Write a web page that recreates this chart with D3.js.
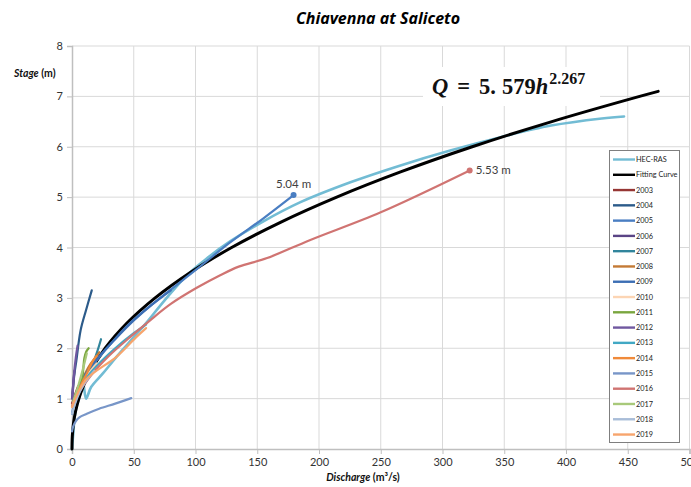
<!DOCTYPE html>
<html>
<head>
<meta charset="utf-8">
<script src="https://cdn.jsdelivr.net/npm/d3@7"></script>
<style>
  body { margin: 0; background: #fff; }
  svg { display: block; }
</style>
</head>
<body>
<svg id="chart" width="691" height="487"></svg>
<script>
// ---- data: [discharge m3/s, stage m] pairs ----
const hecRas = [[0,0],[1,0.3],[2.5,0.7],[5.5,1.0],[9,1.3],[11.4,1.0],[15.5,1.23],[25,1.5],[36,1.83],[50,2.22],[60,2.5],[75,2.95],[93,3.45],[110,3.8],[128,4.12],[155,4.52],[185,4.9],[226,5.3],[266,5.63],[307,5.93],[347,6.19],[388,6.42],[429,6.56],[447,6.6]];

// fitted rating curve Q = a * h^b
const fitCoef = 5.579;
const fitExp = 2.267;
const fitStage = [0,0.1,0.25,0.5,0.75,1,1.25,1.5,2,2.5,3,3.5,4,4.5,5,5.5,6,6.5,7,7.1];

const s2003 = [[0,0.9],[2,1.05],[5,1.25]];
const s2004 = [[0.5,1.1],[2,1.5],[3.5,1.75],[7,2.36],[11.4,2.76],[16,3.15]];
const s2005 = [[0,0.7],[5,1.2],[15,1.6],[30,2.05],[47,2.5],[74,3.05],[101,3.57],[128,4.1],[155,4.58],[179.4,5.04]];
const s2006 = [[0,1.0],[1,1.3],[2,1.55]];
const s2007 = [[6,1.2],[11,1.43],[18,1.77],[23.5,2.18]];
const s2008 = [[3,1.0],[8,1.35],[14,1.65],[19.5,1.83],[22,1.92]];
const s2009 = [[2,1.0],[10,1.45],[20,1.78],[35,2.18],[50,2.55],[65,2.87],[80,3.15]];
const s2010 = [[0,0.85],[5,1.15],[12,1.45],[20,1.7]];
const s2011 = [[5,1.15],[8,1.35],[9,1.55],[10,1.8],[11.5,1.93],[13.5,2.0]];
const s2012 = [[0.3,1.0],[1.5,1.45],[3,1.8],[4.5,2.05]];
const s2013 = [[2,0.9],[10,1.35],[20,1.65],[35,2.0],[50,2.3],[60,2.47]];
const s2014 = [[2,0.95],[6,1.2],[12,1.5],[17,1.75],[20,1.85]];
const s2015 = [[0,0.35],[1,0.45],[3,0.55],[6,0.63],[12,0.7],[22,0.8],[35,0.9],[48,1.01]];
const s2016 = [[0,0.85],[5,1.1],[15,1.45],[30,1.85],[47,2.22],[63,2.55],[80,2.88],[101,3.2],[120,3.45],[135,3.62],[158,3.79],[193,4.15],[250,4.7],[322,5.53]];
const s2017 = [[1,0.95],[5,1.25],[9,1.6],[12,1.9]];
const s2018 = [[0,0.7],[4,1.0],[10,1.3],[18,1.55]];
const s2019 = [[0,0.83],[11,1.37],[36,1.83],[52,2.22],[60,2.4]];

const years = ["2003","2004","2005","2006","2007","2008","2009","2010","2011","2012","2013","2014","2015","2016","2017","2018","2019"];
const yearData = [s2003,s2004,s2005,s2006,s2007,s2008,s2009,s2010,s2011,s2012,s2013,s2014,s2015,s2016,s2017,s2018,s2019];
const yearColors = ["#963634","#2c5b8a","#4a7ec2","#5a4485","#31859c","#c47a35","#3c6eb4","#fcd5b4","#7aa63f","#7058a0","#41a8c4","#f08a3a","#7896c8","#d07472","#a8c97a","#a9bdd8","#f7a56d"];

// end-of-record labels
const endLabels = [
  {series: "2005", q: 179.4, h: 5.04, text: "5.04 m", anchor: "middle", dx: 0, dy: -7},
  {series: "2016", q: 322, h: 5.53, text: "5.53 m", anchor: "start", dx: 6, dy: 4}
];

const xTicks = [0,50,100,150,200,250,300,350,400,450,500];
const yTicks = [0,1,2,3,4,5,6,7,8];

// ---- layout ----
const svg = d3.select("#chart");
const x = d3.scaleLinear().domain([0, 500]).range([72, 689.5]);
const y = d3.scaleLinear().domain([0, 8]).range([449, 46]);
const labelFont = "Lato, 'Open Sans', sans-serif";

// gridlines
svg.append("g").selectAll("line").data(xTicks.slice(1)).join("line")
  .attr("x1", d => x(d)).attr("x2", d => x(d))
  .attr("y1", y(0)).attr("y2", y(8))
  .attr("stroke", "#d9d9d9").attr("stroke-width", 1);
svg.append("g").selectAll("line").data(yTicks.slice(1)).join("line")
  .attr("x1", x(0)).attr("x2", x(500))
  .attr("y1", d => y(d)).attr("y2", d => y(d))
  .attr("stroke", "#d9d9d9").attr("stroke-width", 1);

// axes
const xAxis = svg.append("g").attr("transform", `translate(0,${y(0)})`)
  .call(d3.axisBottom(x).tickValues(xTicks).tickSize(5).tickPadding(4));
const yAxis = svg.append("g").attr("transform", `translate(${x(0)},0)`)
  .call(d3.axisLeft(y).tickValues(yTicks).tickSize(5).tickPadding(4));
[xAxis, yAxis].forEach(g => {
  g.select(".domain").attr("stroke", "#bfbfbf").attr("stroke-width", 1.5);
  g.selectAll(".tick line").attr("stroke", "#bfbfbf");
  g.selectAll(".tick text").attr("fill", "#333").style("font-family", labelFont).style("font-size", "11px");
});

// series lines
const line = d3.line().x(d => x(d[0])).y(d => y(d[1])).curve(d3.curveCatmullRom.alpha(0.5));

svg.append("path").datum(hecRas).attr("d", line)
  .attr("fill", "none").attr("stroke", "#72bcd4").attr("stroke-width", 2.6)
  .attr("stroke-linejoin", "round").attr("stroke-linecap", "round");

const fitPts = fitStage.map(h => [fitCoef * Math.pow(h, fitExp), h]);
svg.append("path").datum(fitPts).attr("d", line)
  .attr("fill", "none").attr("stroke", "#000").attr("stroke-width", 3)
  .attr("stroke-linejoin", "round").attr("stroke-linecap", "round");

yearData.forEach((data, i) => {
  svg.append("path").datum(data).attr("d", line)
    .attr("fill", "none").attr("stroke", yearColors[i]).attr("stroke-width", 2.2)
    .attr("stroke-linejoin", "round").attr("stroke-linecap", "round");
});

// end markers with labels
endLabels.forEach(l => {
  const c = yearColors[years.indexOf(l.series)];
  svg.append("circle").attr("cx", x(l.q)).attr("cy", y(l.h)).attr("r", 3).attr("fill", c);
  svg.append("text").attr("x", x(l.q) + l.dx).attr("y", y(l.h) + l.dy)
    .attr("text-anchor", l.anchor).attr("fill", "#404040")
    .style("font-family", labelFont).style("font-size", "11.5px").text(l.text);
});

// equation box
svg.append("rect").attr("x", 423).attr("y", 67).attr("width", 177).attr("height", 39).attr("fill", "#fff");
const eq = svg.append("text").attr("x", 432).attr("y", 94)
  .attr("fill", "#111").style("font-family", "'Liberation Serif', 'DejaVu Serif', serif")
  .style("font-size", "22.5px").style("font-weight", "bold");
eq.append("tspan").style("font-style", "italic").text("Q");
eq.append("tspan").attr("dx", 9).text("=");
eq.append("tspan").attr("dx", 9).text("5.");
eq.append("tspan").attr("dx", 6).text(fitCoef.toString().slice(2));
eq.append("tspan").style("font-style", "italic").text("h");
eq.append("tspan").attr("dx", 1).attr("dy", -10).style("font-size", "16px").text(fitExp.toString());

// title
svg.append("text").attr("x", 378).attr("y", 24).attr("text-anchor", "middle")
  .attr("fill", "#000").style("font-family", "'Open Sans', sans-serif")
  .style("font-size", "16px").style("font-weight", "bold").style("font-style", "italic")
  .text("Chiavenna at Saliceto");

// axis titles
const yt = svg.append("text").attr("x", 14).attr("y", 77).attr("fill", "#111")
  .style("font-family", labelFont).style("font-size", "10.5px").style("font-weight", "bold");
yt.append("tspan").style("font-style", "italic").text("Stage");
yt.append("tspan").text(" (m)");

const xt = svg.append("text").attr("x", 363).attr("y", 481).attr("text-anchor", "middle").attr("fill", "#111")
  .style("font-family", labelFont).style("font-size", "10.5px").style("font-weight", "bold");
xt.append("tspan").style("font-style", "italic").text("Discharge");
xt.append("tspan").text(" (m³/s)");

// legend
const legendItems = [{name: "HEC-RAS", color: "#72bcd4"}, {name: "Fitting Curve", color: "#000"}]
  .concat(years.map((yr, i) => ({name: yr, color: yearColors[i]})));
const lg = svg.append("g");
lg.append("rect").attr("x", 609.5).attr("y", 150.5).attr("width", 70).attr("height", 292)
  .attr("fill", "#fff").attr("stroke", "#7f7f7f").attr("stroke-width", 1);
const rows = lg.selectAll("g").data(legendItems).join("g")
  .attr("transform", (d, i) => `translate(0,${159.5 + i * 15.28})`);
rows.append("line").attr("x1", 613).attr("x2", 635).attr("y1", 0).attr("y2", 0)
  .attr("stroke", d => d.color).attr("stroke-width", 2.4);
rows.append("text").attr("x", 636).attr("y", 2.6).attr("fill", "#222")
  .style("font-family", labelFont).style("font-size", "7.3px").text(d => d.name);
</script>
</body>
</html>
